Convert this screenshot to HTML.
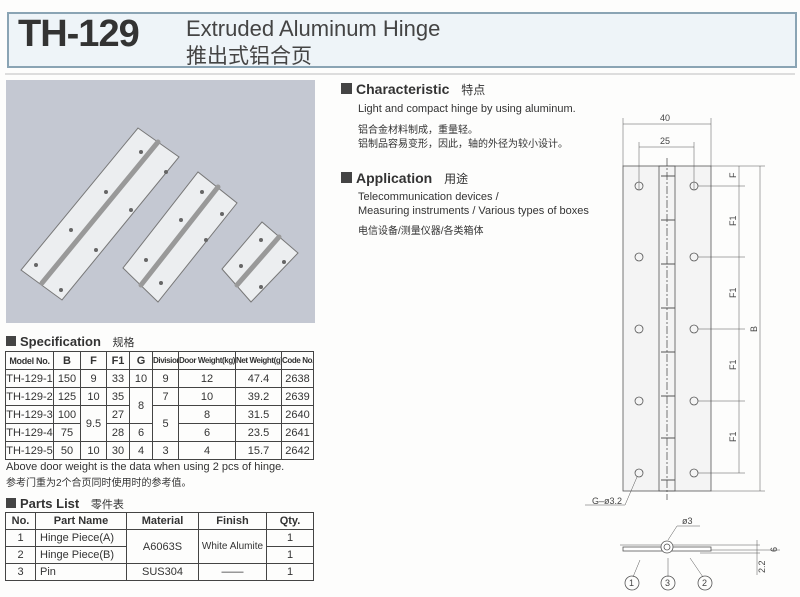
<!DOCTYPE html>
<html><head><meta charset="utf-8"><style>
*{margin:0;padding:0;box-sizing:border-box}
body{width:800px;height:597px;background:#fdfdfc;position:relative;overflow:hidden;font-family:"Liberation Sans","Noto Sans CJK SC",sans-serif;color:#333}
.a{position:absolute;white-space:nowrap}
table{position:absolute;border-collapse:collapse;font-size:11px;color:#333;table-layout:fixed}
td{border:1px solid #444;text-align:center;padding:0;line-height:16px;white-space:nowrap;overflow:hidden}
.h{font-weight:bold;font-size:13px}
.sq{display:inline-block;width:10px;height:10px;background:#444;margin-right:4px}
.sm{font-size:8px;letter-spacing:-0.4px}
</style></head><body>
<div class="a" style="left:7px;top:12px;width:790px;height:56px;background:#eef4f8;border:2px solid #8aa4b4"></div>
<div class="a" style="left:18px;top:13px;font-size:38px;font-weight:bold;color:#333;letter-spacing:-1px">TH-129</div>
<div class="a" style="left:186px;top:16px;font-size:22px;color:#444">Extruded Aluminum Hinge</div>
<div class="a" style="left:186px;top:40px;font-size:21px;color:#444;font-family:'Noto Sans CJK SC',sans-serif">推出式铝合页</div>
<div class="a" style="left:5px;top:73px;width:790px;height:2px;background:#ddd"></div>

<svg class="a" style="left:6px;top:80px" width="309" height="243">
<rect width="309" height="243" fill="#c4c8d2"/>
<g fill="#eceef0" stroke="#777" stroke-width="1">
<polygon points="15,190 56,220 173,77 132,48"/>
<polygon points="117,188 152,222 231,123 192,92"/>
<polygon points="216,189 245,222 292,173 256,142"/>
</g>
<g stroke="#999" stroke-width="5" stroke-linecap="round">
<line x1="36" y1="203" x2="152" y2="62"/><line x1="135" y1="205" x2="212" y2="107"/><line x1="231" y1="205" x2="273" y2="157"/>
</g>
<g fill="#666"><circle cx="30" cy="185" r="2"/><circle cx="65" cy="150" r="2"/><circle cx="100" cy="112" r="2"/><circle cx="135" cy="72" r="2"/><circle cx="55" cy="210" r="2"/><circle cx="90" cy="170" r="2"/><circle cx="125" cy="130" r="2"/><circle cx="160" cy="92" r="2"/>
<circle cx="140" cy="180" r="2"/><circle cx="175" cy="140" r="2"/><circle cx="196" cy="112" r="2"/><circle cx="155" cy="203" r="2"/><circle cx="200" cy="160" r="2"/><circle cx="216" cy="134" r="2"/>
<circle cx="235" cy="186" r="2"/><circle cx="255" cy="160" r="2"/><circle cx="255" cy="207" r="2"/><circle cx="278" cy="182" r="2"/></g>
</svg>

<div class="a h" style="left:6px;top:334px"><span class="sq"></span>Specification <span style="font-weight:normal;font-size:11px;margin-left:8px">规格</span></div>
<table style="left:5px;top:351px;width:308px">
<colgroup><col style="width:48px"><col style="width:27px"><col style="width:26px"><col style="width:23px"><col style="width:23px"><col style="width:26px"><col style="width:57px"><col style="width:46px"><col style="width:32px"></colgroup>
<tr style="height:18px;font-weight:bold"><td style="font-size:9px;letter-spacing:-0.3px">Model No.</td><td>B</td><td>F</td><td>F1</td><td>G</td><td class="sm">Division</td><td class="sm">Door Weight(kg)</td><td class="sm">Net Weight(g)</td><td class="sm">Code No.</td></tr>
<tr style="height:18px"><td>TH-129-1</td><td>150</td><td>9</td><td>33</td><td>10</td><td>9</td><td>12</td><td>47.4</td><td>2638</td></tr>
<tr style="height:18px"><td>TH-129-2</td><td>125</td><td>10</td><td>35</td><td rowspan="2">8</td><td>7</td><td>10</td><td>39.2</td><td>2639</td></tr>
<tr style="height:18px"><td>TH-129-3</td><td>100</td><td rowspan="2">9.5</td><td>27</td><td rowspan="2">5</td><td>8</td><td>31.5</td><td>2640</td></tr>
<tr style="height:18px"><td>TH-129-4</td><td>75</td><td>28</td><td>6</td><td>6</td><td>23.5</td><td>2641</td></tr>
<tr style="height:18px"><td>TH-129-5</td><td>50</td><td>10</td><td>30</td><td>4</td><td>3</td><td>4</td><td>15.7</td><td>2642</td></tr>
</table>
<div class="a" style="left:6px;top:461px;font-size:11px">Above door weight is the data when using 2 pcs of hinge.</div>
<div class="a" style="left:6px;top:474px;font-size:10px">参考门重为2个合页同时使用时的参考值。</div>
<div class="a h" style="left:6px;top:496px"><span class="sq"></span>Parts List <span style="font-weight:normal;font-size:11px;margin-left:8px">零件表</span></div>
<table style="left:5px;top:512px;width:308px">
<colgroup><col style="width:30px"><col style="width:91px"><col style="width:72px"><col style="width:68px"><col style="width:47px"></colgroup>
<tr style="height:17px;font-weight:bold"><td>No.</td><td>Part Name</td><td>Material</td><td>Finish</td><td>Qty.</td></tr>
<tr style="height:17px"><td>1</td><td style="text-align:left;padding-left:4px">Hinge Piece(A)</td><td rowspan="2">A6063S</td><td rowspan="2" style="font-size:10px">White Alumite</td><td>1</td></tr>
<tr style="height:17px"><td>2</td><td style="text-align:left;padding-left:4px">Hinge Piece(B)</td><td>1</td></tr>
<tr style="height:17px"><td>3</td><td style="text-align:left;padding-left:4px">Pin</td><td>SUS304</td><td>——</td><td>1</td></tr>
</table>

<div class="a h" style="left:341px;top:81px;font-size:14px"><span class="sq" style="width:11px;height:11px"></span>Characteristic <span style="font-weight:normal;font-size:12px;margin-left:8px">特点</span></div>
<div class="a" style="left:358px;top:103px;font-size:11px">Light and compact hinge by using aluminum.</div>
<div class="a" style="left:358px;top:121px;font-size:10px">铝合金材料制成，重量轻。</div>
<div class="a" style="left:358px;top:135px;font-size:10px">铝制品容易变形，因此，轴的外径为较小设计。</div>
<div class="a h" style="left:341px;top:170px;font-size:14px"><span class="sq" style="width:11px;height:11px"></span>Application <span style="font-weight:normal;font-size:12px;margin-left:8px">用途</span></div>
<div class="a" style="left:358px;top:191px;font-size:11px">Telecommunication devices /</div>
<div class="a" style="left:358px;top:205px;font-size:11px">Measuring instruments / Various types of boxes</div>
<div class="a" style="left:358px;top:222px;font-size:10px">电信设备/测量仪器/各类箱体</div>

<svg class="a" style="left:0;top:0" width="800" height="597" font-family="Liberation Sans" font-size="9" fill="none" stroke="#555" stroke-width="0.8">
<rect x="623" y="166" width="88" height="325" fill="#f4f4f4"/>
<rect x="659" y="166" width="16" height="325"/>
<g stroke-width="1"><line x1="661" y1="176" x2="675" y2="176"/><line x1="661" y1="220" x2="675" y2="220"/><line x1="661" y1="264" x2="675" y2="264"/><line x1="661" y1="308" x2="675" y2="308"/><line x1="661" y1="352" x2="675" y2="352"/><line x1="661" y1="396" x2="675" y2="396"/><line x1="661" y1="438" x2="675" y2="438"/><line x1="661" y1="480" x2="675" y2="480"/></g>
<line x1="667" y1="158" x2="667" y2="500" stroke-dasharray="8,2,2,2"/>
<g>
<circle cx="639" cy="186" r="4"/><circle cx="694" cy="186" r="4"/><circle cx="639" cy="257" r="4"/><circle cx="694" cy="257" r="4"/><circle cx="639" cy="329" r="4"/><circle cx="694" cy="329" r="4"/><circle cx="639" cy="401" r="4"/><circle cx="694" cy="401" r="4"/><circle cx="639" cy="473" r="4"/><circle cx="694" cy="473" r="4"/>
</g>
<g stroke-width="0.5">
<line x1="623" y1="118" x2="623" y2="166"/><line x1="711" y1="118" x2="711" y2="166"/><line x1="623" y1="124" x2="711" y2="124"/>
<line x1="639" y1="142" x2="639" y2="190"/><line x1="694" y1="142" x2="694" y2="190"/><line x1="639" y1="147" x2="694" y2="147"/>
<line x1="711" y1="166" x2="765" y2="166"/><line x1="711" y1="491" x2="765" y2="491"/><line x1="760" y1="166" x2="760" y2="491"/>
<line x1="698" y1="186" x2="745" y2="186"/><line x1="698" y1="257" x2="745" y2="257"/><line x1="698" y1="329" x2="745" y2="329"/><line x1="698" y1="401" x2="745" y2="401"/><line x1="698" y1="473" x2="745" y2="473"/>
<line x1="739" y1="166" x2="739" y2="473"/>
<polyline points="585,505 625,505 637,477"/>
<polyline points="700,553 760,553"/><line x1="620" y1="545" x2="760" y2="545"/>
<line x1="757" y1="540" x2="757" y2="575"/><line x1="700" y1="550" x2="780" y2="550"/>
<polyline points="668,540 677,526 700,526"/>
<line x1="640" y1="560" x2="633" y2="577"/><line x1="668" y1="558" x2="668" y2="577"/><line x1="690" y1="558" x2="703" y2="577"/>
</g>
<rect x="623" y="547" width="88" height="4" fill="#fff"/>
<circle cx="667" cy="547" r="6" fill="#fff"/><circle cx="667" cy="547" r="3"/>
<circle cx="632" cy="583" r="7"/><circle cx="668" cy="583" r="7"/><circle cx="705" cy="583" r="7"/>
<g fill="#444" stroke="none" font-size="9">
<text x="660" y="121">40</text><text x="660" y="144">25</text>
<text x="592" y="504">G–ø3.2</text><text x="682" y="524">ø3</text>
<text x="629" y="586">1</text><text x="665" y="586">3</text><text x="702" y="586">2</text>
<text transform="translate(736,178) rotate(-90)">F</text>
<text transform="translate(736,226) rotate(-90)">F1</text>
<text transform="translate(736,298) rotate(-90)">F1</text>
<text transform="translate(736,370) rotate(-90)">F1</text>
<text transform="translate(736,442) rotate(-90)">F1</text>
<text transform="translate(757,332) rotate(-90)">B</text>
<text transform="translate(777,552) rotate(-90)">6</text>
<text transform="translate(765,573) rotate(-90)">2.2</text>
</g>
</svg>
</body></html>
